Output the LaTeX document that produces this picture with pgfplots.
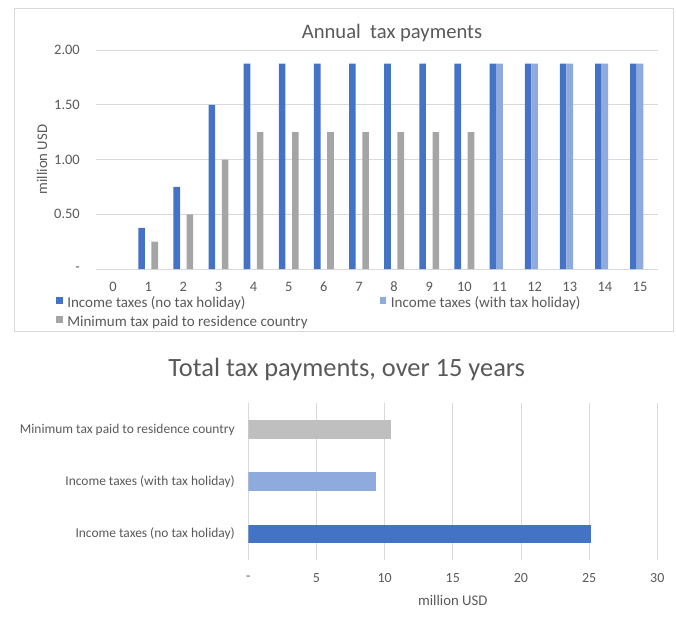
\documentclass[border=0pt]{standalone}
\usepackage{pgfplots}
\pgfplotsset{compat=1.18}
\usepackage{fontspec}
\setmainfont{Carlito}
\definecolor{cblue}{HTML}{4472C4}
\definecolor{clight}{HTML}{8FAADC}
\definecolor{cgreyA}{HTML}{A5A5A5}
\definecolor{cgreyB}{HTML}{BFBFBF}
\definecolor{cgrid}{HTML}{D9D9D9}
\definecolor{ctext}{HTML}{595959}
\begin{document}
\begin{tikzpicture}[x=1bp,y=1bp]
\path[use as bounding box] (0,0) rectangle (676,-619);
\draw[cgrid, line width=0.8bp] (14,-8.3) rectangle (673.3,-331);
\node[anchor=base, text=ctext, font=\fontsize{20.7}{24}\selectfont, inner sep=0pt] at (392,-39) {Annual\ \ tax payments};
\begin{axis}[
  scale only axis, width=562.1bp, height=219bp,
  at={(95.5bp,-269bp)}, anchor=south west,
  xmin=-0.5, xmax=15.5, ymin=0, ymax=2,
  axis line style={draw=none},
  major tick length=0pt,
  ybar=0pt, bar width=6.6bp,
  xtick={0,...,15},
  ytick={0,0.5,1,1.5,2},
  yticklabels={-\hspace{6bp},0.50,1.00,1.50,2.00},
  ymajorgrids, grid style={cgrid, line width=0.8bp},
  /pgf/number format/assume math mode=true,
  tick label style={font=\fontsize{14.5}{16}\selectfont, text=ctext},
  xticklabel style={anchor=center, inner sep=0pt, yshift=-17.7bp},
  yticklabel style={anchor=east, inner sep=0pt, xshift=-15.5bp},
  ylabel={million USD},
  ylabel style={at={(axis description cs:-0.0952,0.5)}, anchor=center, font=\fontsize{14.8}{16}\selectfont, text=ctext},
  legend columns=2,
  legend cell align=left,
  legend image code/.code={\fill[#1] (0bp,0bp) rectangle (6.7bp,7bp);},
  legend style={draw=none, fill=none, inner sep=0pt, outer sep=0pt,
    at={(-0.0703,-0.1265)}, anchor=north west,
    nodes={inner sep=0pt, text height=10bp, text depth=3bp, font=\fontsize{15.1}{16}\selectfont, text=ctext},
    row sep=5.3bp,
    /tikz/every odd column/.append style={column sep=4.6bp},
    /tikz/every even column/.append style={column sep=72bp}},
]
\addplot[fill=cblue, draw=none] coordinates {(1,0.375) (2,0.75) (3,1.5) (4,1.875) (5,1.875) (6,1.875) (7,1.875) (8,1.875) (9,1.875) (10,1.875) (11,1.875) (12,1.875) (13,1.875) (14,1.875) (15,1.875)};
\addlegendentry{Income taxes (no tax holiday)}
\addplot[fill=clight, draw=none] coordinates {(11,1.875) (12,1.875) (13,1.875) (14,1.875) (15,1.875)};
\addlegendentry{Income taxes (with tax holiday)}
\addplot[fill=cgreyA, draw=none] coordinates {(1,0.25) (2,0.5) (3,1.0) (4,1.25) (5,1.25) (6,1.25) (7,1.25) (8,1.25) (9,1.25) (10,1.25)};
\addlegendentry{Minimum tax paid to residence country}
\end{axis}
\node[anchor=base, text=ctext, font=\fontsize{26.5}{30}\selectfont, inner sep=0pt] at (346.7,-376.7) {Total tax payments, over 15 years};
\begin{axis}[
  scale only axis, width=409bp, height=156.7bp,
  at={(248.3bp,-560bp)}, anchor=south west,
  xmin=0, xmax=30, ymin=-0.5, ymax=2.5,
  axis line style={draw=none}, major tick length=0pt,
  xbar, bar width=18.5bp,
  xtick={0,5,...,30}, xticklabels={-\hspace{6.6bp},5,10,15,20,25,30},
  ytick={0,1,2},
  yticklabels={Income taxes (no tax holiday),Income taxes (with tax holiday),Minimum tax paid to residence country},
  xmajorgrids, grid style={cgrid, line width=0.8bp},
  /pgf/number format/assume math mode=true,
  xticklabel style={anchor=center, inner sep=0pt, yshift=-18bp, font=\fontsize{14}{16}\selectfont, text=ctext},
  yticklabel style={anchor=east, inner sep=0pt, xshift=-13.3bp, font=\fontsize{13.5}{16}\selectfont, text=ctext},
  xlabel={million USD},
  xlabel style={at={(axis description cs:0.5,0)}, anchor=center, yshift=-40bp, font=\fontsize{14.8}{16}\selectfont, text=ctext},
]
\addplot[fill=cblue, draw=none, bar shift=0pt] coordinates {(25.125,0)};
\addplot[fill=clight, draw=none, bar shift=0pt] coordinates {(9.375,1)};
\addplot[fill=cgreyB, draw=none, bar shift=0pt] coordinates {(10.5,2)};
\end{axis}
\end{tikzpicture}
\end{document}
